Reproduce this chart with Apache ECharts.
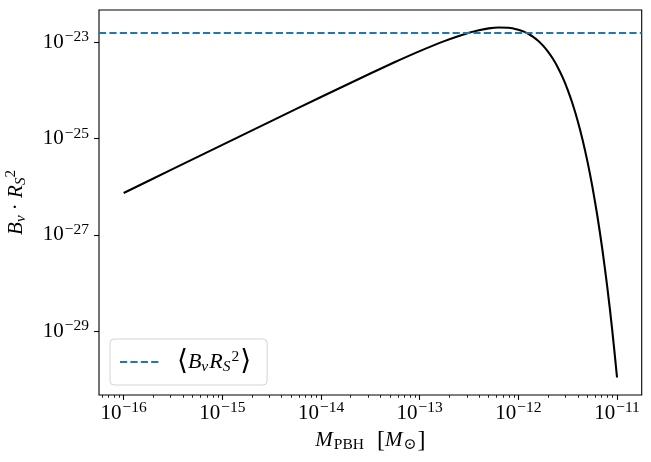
<!DOCTYPE html>
<html>
<head>
<meta charset="utf-8">
<script src="https://cdn.jsdelivr.net/npm/echarts@6/dist/echarts.min.js"></script>
<style>html,body{margin:0;padding:0;background:#fff}#c{width:651px;height:462px}</style>
</head>
<body>
<div id="c"></div>
<script>
// ---- data ----
const massMsun = [1e-16, 3.162e-16, 1e-15, 3.162e-15, 1e-14, 3.162e-14, 5.623e-14, 1e-13, 1.778e-13,
  3.162e-13, 3.981e-13, 5.012e-13, 6.310e-13, 7.943e-13, 1e-12, 1.122e-12, 1.259e-12, 1.413e-12,
  1.585e-12, 1.778e-12, 1.995e-12, 2.239e-12, 2.512e-12, 2.818e-12, 3.162e-12, 3.548e-12, 3.981e-12,
  4.467e-12, 5.012e-12, 5.623e-12, 6.310e-12, 7.079e-12, 7.943e-12, 8.913e-12, 1e-11];
const bnuRs2 = [7.40e-27, 2.34e-26, 7.40e-26, 2.33e-25, 7.31e-25, 2.25e-24, 3.89e-24, 6.56e-24, 1.06e-23,
  1.58e-23, 1.78e-23, 1.95e-23, 2.03e-23, 2.01e-23, 1.83e-23, 1.69e-23, 1.51e-23, 1.30e-23,
  1.08e-23, 8.55e-24, 6.43e-24, 4.55e-24, 3.01e-24, 1.84e-24, 1.03e-24, 5.24e-25, 2.38e-25,
  9.59e-26, 3.35e-26, 1.00e-26, 2.52e-27, 5.19e-28, 8.57e-29, 1.11e-29, 1.08e-30];
const meanBnuRs2 = 1.58e-23;
const xTickExponents = [-16, -15, -14, -13, -12, -11];
const yTickExponents = [-29, -27, -25, -23];
const xExtent = [-16.25, -10.75];
const yExtent = [-30.33, -22.328];

// ---- build ----
const FONT = "'Liberation Serif','DejaVu Serif',serif";
const lg = v => Math.log10(v);
const curve = massMsun.map((m, i) => [lg(m), lg(bnuRs2[i])]);
const minorX = [];
for (let n = -17; n <= -11; n++) {
  for (let k = 2; k <= 9; k++) {
    const v = n + Math.log10(k);
    if (v > xExtent[0] && v < xExtent[1]) minorX.push(v);
  }
}
const sup = e => '{b|10}{s|\u2212' + Math.abs(Math.round(e)) + '}';
const tickRich = {
  b: {fontFamily: FONT, fontSize: 21, color: '#000'},
  s: {fontFamily: FONT, fontSize: 15.5, color: '#000', padding: [0, 0, 10, 1]}
};

const chart = echarts.init(document.getElementById('c'), null, {renderer: 'canvas'});
chart.setOption({
  animation: false,
  backgroundColor: '#fff',
  grid: {left: 99, right: 9.3, top: 10, bottom: 67, containLabel: false, outerBoundsMode: 'none',
    show: true, borderColor: '#000', borderWidth: 1.1, backgroundColor: 'transparent'},
  legend: {
    show: true,
    data: [{name: 'mean', itemStyle: {opacity: 0}}],
    left: 110, top: 339,
    orient: 'vertical',
    padding: [9, 16, 9, 9],
    itemWidth: 41, itemHeight: 14,
    borderColor: '#d4d4d4', borderWidth: 1, borderRadius: 4,
    backgroundColor: 'rgba(255,255,255,0.8)',
    formatter: () => '{br|\u27E8}{i|B}{sub|v}{i|R}{sub|S}{sup|2}{br|\u27E9}',
    textStyle: {
      rich: {
        br: {fontFamily: FONT, fontSize: 28, color: '#000'},
        i: {fontFamily: FONT, fontStyle: 'italic', fontSize: 22, color: '#000'},
        sub: {fontFamily: FONT, fontStyle: 'italic', fontSize: 15.5, color: '#000', padding: [10, 1, 0, 0]},
        sup: {fontFamily: FONT, fontSize: 15.5, color: '#000', padding: [0, 1, 10, 0]}
      },
      padding: [0, 0, 0, 11]
    }
  },
  xAxis: [{
    type: 'value', min: xExtent[0], max: xExtent[1],
    axisLine: {show: false},
    splitLine: {show: false},
    axisTick: {show: true, customValues: xTickExponents, length: 4.9, lineStyle: {color: '#000', width: 1.1}},
    axisLabel: {show: true, customValues: xTickExponents, margin: 5, formatter: v => sup(v), rich: tickRich},
    name: '{i|M}{sub|PBH}{r|  [}{i|M}{sub|\u2299}{r|]}',
    nameLocation: 'middle', nameGap: 32,
    nameTextStyle: {
      rich: {
        i: {fontFamily: FONT, fontStyle: 'italic', fontSize: 21, color: '#000'},
        r: {fontFamily: FONT, fontSize: 24, color: '#000'},
        sub: {fontFamily: FONT, fontSize: 15.5, color: '#000', padding: [10, 1, 0, 1]}
      }
    }
  }, {
    type: 'value', min: xExtent[0], max: xExtent[1], position: 'bottom',
    axisLine: {show: false}, splitLine: {show: false},
    axisTick: {show: true, customValues: minorX, length: 2.8, lineStyle: {color: '#000', width: 0.85}},
    axisLabel: {show: false}
  }],
  yAxis: {
    type: 'value', min: yExtent[0], max: yExtent[1],
    axisLine: {show: false},
    splitLine: {show: false},
    axisTick: {show: true, customValues: yTickExponents, length: 4.9, lineStyle: {color: '#000', width: 1.1}},
    axisLabel: {show: true, customValues: yTickExponents, margin: 10, formatter: v => sup(v), rich: tickRich},
    name: '{i|B}{sub|v}{r| \u00B7 }{i|R}{sub|S}{sup|2}',
    nameLocation: 'middle', nameGap: 70, nameRotate: 90,
    nameTextStyle: {
      rich: {
        i: {fontFamily: FONT, fontStyle: 'italic', fontSize: 21, color: '#000'},
        r: {fontFamily: FONT, fontSize: 21, color: '#000'},
        sub: {fontFamily: FONT, fontStyle: 'italic', fontSize: 15, color: '#000', padding: [10, 0, 0, 0]},
        sup: {fontFamily: FONT, fontSize: 15, color: '#000', padding: [0, 0, 10, 0]}
      }
    }
  },
  series: [{
    name: 'curve', type: 'line', data: curve, xAxisIndex: 0,
    showSymbol: false, symbol: 'none', smooth: 0.25,
    lineStyle: {color: '#000', width: 2.08},
    z: 3
  }, {
    name: 'mean', type: 'line', data: [], xAxisIndex: 0,
    symbol: 'none', showSymbol: false,
    lineStyle: {color: '#1f77b4', width: 2.08, type: [7.2, 3.2]},
    itemStyle: {color: '#1f77b4'},
    markLine: {
      silent: true, symbol: ['none', 'none'], label: {show: false},
      lineStyle: {color: '#1f77b4', width: 2.08, type: [7.2, 3.2]},
      data: [{yAxis: lg(meanBnuRs2)}]
    },
    z: 2
  }]
});
</script>
</body>
</html>
